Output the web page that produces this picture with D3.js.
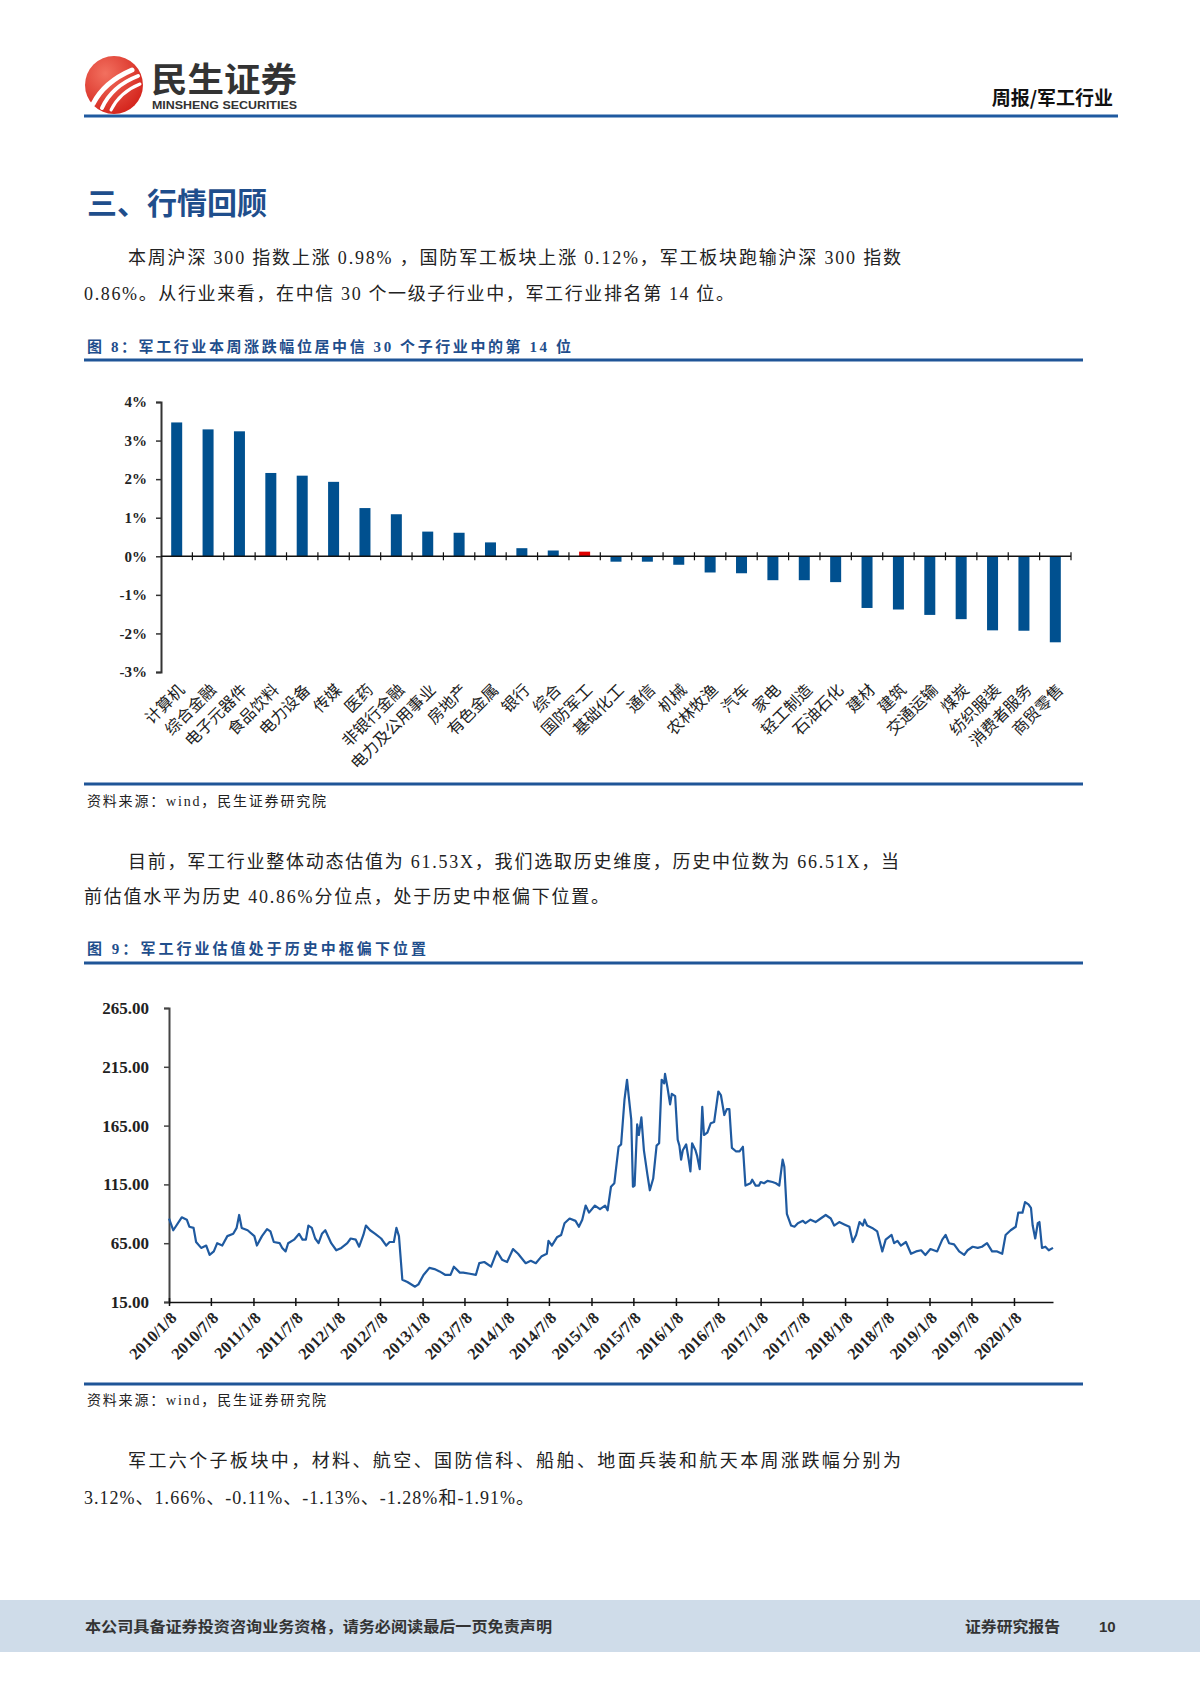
<!DOCTYPE html>
<html><head><meta charset="utf-8">
<script src="https://cdn.jsdelivr.net/npm/d3@7"></script>
<style>
body{margin:0;background:#fff}
svg text{font-family:"Liberation Serif","Noto Sans CJK SC",serif}
</style></head>
<body><svg id="page" width="1200" height="1698"></svg>
<script>
// ---------- Figure 8 data ----------
const industries = ["计算机","综合金融","电子元器件","食品饮料","电力设备","传媒","医药","非银行金融","电力及公用事业","房地产","有色金属","银行","综合","国防军工","基础化工","通信","机械","农林牧渔","汽车","家电","轻工制造","石油石化","建材","建筑","交通运输","煤炭","纺织服装","消费者服务","商贸零售"];
const changes = [3.47,3.29,3.24,2.16,2.09,1.93,1.25,1.09,0.64,0.61,0.36,0.21,0.15,0.12,-0.14,-0.14,-0.22,-0.42,-0.44,-0.62,-0.62,-0.67,-1.34,-1.38,-1.52,-1.63,-1.92,-1.93,-2.23];
const highlightIndustry = "国防军工";
const barTicks = [4,3,2,1,0,-1,-2,-3];

// ---------- Figure 9 data (decimal year, PE) ----------
const peYears = [2010.02,2010.07,2010.17,2010.23,2010.26,2010.31,2010.34,2010.40,2010.46,2010.50,2010.55,2010.59,2010.65,2010.71,2010.78,2010.82,2010.85,2010.88,2010.95,
2011.03,2011.06,2011.12,2011.18,2011.22,2011.26,2011.33,2011.36,2011.40,2011.43,2011.50,2011.56,2011.60,2011.64,2011.67,2011.71,2011.75,2011.79,2011.83,2011.87,2011.94,
2012.00,2012.06,2012.13,2012.17,2012.23,2012.27,2012.32,2012.35,2012.40,2012.46,2012.53,2012.59,2012.63,2012.68,2012.71,2012.74,2012.78,2012.84,2012.93,2012.97,
2013.03,2013.10,2013.16,2013.22,2013.29,2013.35,2013.39,2013.46,2013.50,2013.58,2013.65,2013.69,2013.75,2013.83,2013.90,2013.96,
2014.02,2014.09,2014.15,2014.24,2014.30,2014.36,2014.43,2014.49,2014.51,2014.55,2014.61,2014.66,2014.70,2014.76,2014.83,2014.87,2014.91,2014.95,2014.99,
2015.06,2015.12,2015.18,2015.21,2015.25,2015.29,2015.34,2015.37,2015.41,2015.44,2015.46,2015.49,2015.51,2015.53,2015.56,2015.58,2015.61,2015.64,2015.68,2015.71,2015.75,2015.79,2015.82,2015.85,2015.88,2015.89,2015.92,2015.95,2015.97,
2016.01,2016.04,2016.06,2016.08,2016.10,2016.14,2016.17,2016.19,2016.21,2016.25,2016.27,2016.30,2016.33,2016.35,2016.39,2016.43,2016.47,2016.52,2016.55,2016.59,2016.62,2016.65,2016.68,2016.73,2016.77,2016.81,2016.84,2016.90,2016.92,2016.96,
2017.00,2017.02,2017.06,2017.10,2017.16,2017.20,2017.24,2017.28,2017.30,2017.33,2017.38,2017.42,2017.46,2017.52,2017.55,2017.61,2017.67,2017.73,2017.79,2017.85,2017.89,2017.95,
2018.01,2018.07,2018.11,2018.15,2018.19,2018.23,2018.25,2018.28,2018.34,2018.40,2018.46,2018.50,2018.57,2018.60,2018.64,2018.68,2018.74,2018.80,2018.86,2018.92,2018.97,
2019.03,2019.11,2019.17,2019.21,2019.25,2019.31,2019.37,2019.43,2019.47,2019.53,2019.59,2019.64,2019.70,2019.76,2019.82,2019.88,2019.92,2019.98,
2020.04,2020.07,2020.12,2020.15,2020.19,2020.22,2020.24,2020.27,2020.30,2020.32,2020.35,2020.39,2020.43,2020.48];
const peValues = [86,76,87,85,79,78,66,61,63,55,58,65,63,71,73,78,89,78,76,
71,63,71,77,75,66,65,61,58,65,68,73,68,68,80,78,69,65,73,76,65,
59,61,65,69,68,62,72,80,76,73,69,63,66,66,78,71,34,32,28,30,
38,44,43,41,38,38,45,40,40,39,38,48,49,45,58,51,
49,60,56,48,50,48,54,56,67,63,70,72,82,86,84,79,85,97,91,
97,94,97,93,113,116,147,149,187,204,190,170,113,114,166,157,172,144,124,110,120,148,150,204,201,209,197,183,192,
190,153,148,136,144,149,136,126,150,144,139,128,181,157,159,167,168,194,191,174,179,179,146,143,143,147,114,116,119,114,
114,117,116,118,117,116,114,136,130,90,80,79,82,84,82,85,83,86,89,86,80,83,
81,79,66,72,83,80,85,80,78,75,58,68,72,65,67,63,66,56,58,59,55,
60,58,68,72,65,64,58,55,59,62,61,62,65,58,58,56,72,76,
79,91,91,100,98,95,80,69,82,83,61,62,59,61];
const dateTickLabels = ["2010/1/8","2010/7/8","2011/1/8","2011/7/8","2012/1/8","2012/7/8","2013/1/8","2013/7/8","2014/1/8","2014/7/8","2015/1/8","2015/7/8","2016/1/8","2016/7/8","2017/1/8","2017/7/8","2018/1/8","2018/7/8","2019/1/8","2019/7/8","2020/1/8"];
const peTicks = [15,65,115,165,215,265];

// ---------- page texts ----------
const blue = "#1f4e8c";
const svg = d3.select("#page");

// header logo
const logo = svg.append("g");
const grad = svg.append("defs").append("radialGradient").attr("id","lg").attr("cx","35%").attr("cy","30%").attr("r","75%");
grad.append("stop").attr("offset","0%").attr("stop-color","#f2705f");
grad.append("stop").attr("offset","100%").attr("stop-color","#d4241c");
logo.append("circle").attr("cx",114).attr("cy",85).attr("r",29).attr("fill","url(#lg)");
[["M93,104 Q104,82 132,70",5],["M102,108 Q112,86 138,76",4],["M111,110 Q120,92 140,84",3]].forEach(([d,w])=>{
  logo.append("path").attr("d",d).attr("fill","none").attr("stroke","#fff").attr("stroke-width",w).attr("stroke-linecap","round");
});
svg.append("text").attr("x",151).attr("y",92).attr("font-size",34).attr("font-weight",700).attr("fill","#333")
  .style("font-family","'Noto Sans CJK SC'").attr("textLength",146).attr("lengthAdjust","spacingAndGlyphs").text("民生证券");
svg.append("text").attr("x",152).attr("y",109).attr("font-size",11).attr("font-weight",700).attr("fill","#333")
  .style("font-family","'Liberation Sans'").attr("textLength",145).attr("lengthAdjust","spacingAndGlyphs").text("MINSHENG SECURITIES");
svg.append("text").attr("x",1113).attr("y",105).attr("text-anchor","end").attr("font-size",19).attr("font-weight",700).attr("fill","#111")
  .style("font-family","'Noto Sans CJK SC'").text("周报/军工行业");
svg.append("line").attr("x1",84).attr("x2",1118).attr("y1",116).attr("y2",116).attr("stroke","#1f5aa0").attr("stroke-width",3);

// section title
svg.append("text").attr("x",87).attr("y",214).attr("font-size",30).attr("font-weight",700).attr("fill",blue)
  .style("font-family","'Noto Sans CJK SC'").text("三、行情回顾");

function para(x,y,w,t,size){
  const el = svg.append("text").attr("x",x).attr("y",y).attr("font-size",size||18).attr("fill","#222").text(t);
  if(w) el.attr("textLength",w).attr("lengthAdjust","spacing");
  return el;
}
para(128,264,773,"本周沪深 300 指数上涨 0.98% ，国防军工板块上涨 0.12%，军工板块跑输沪深 300 指数");
para(84,300,650,"0.86%。从行业来看，在中信 30 个一级子行业中，军工行业排名第 14 位。");

function figTitle(y,w,t){
  svg.append("text").attr("x",87).attr("y",y).attr("font-size",15).attr("font-weight",700).attr("fill",blue)
    .attr("textLength",w).attr("lengthAdjust","spacing").text(t);
}
function rule(y){ svg.append("line").attr("x1",84).attr("x2",1083).attr("y1",y).attr("y2",y).attr("stroke","#1f5597").attr("stroke-width",3); }
function source(y){ para(87,y,239,"资料来源：wind，民生证券研究院",14); }

figTitle(352,484,"图 8：军工行业本周涨跌幅位居中信 30 个子行业中的第 14 位");
rule(360);

// ---------- Figure 8: bar chart ----------
const bx = d3.scaleBand().domain(industries).range([161,1071]).padding(0);
const by = d3.scaleLinear().domain([-3,4]).range([672,402]);
const barW = 11;
const g8 = svg.append("g");
g8.selectAll("rect.bar").data(industries).join("rect").attr("class","bar")
  .attr("x",d=>bx(d)+bx.bandwidth()/2-barW/2)
  .attr("width",barW)
  .attr("y",(d,i)=>by(Math.max(0,changes[i])))
  .attr("height",(d,i)=>Math.abs(by(changes[i])-by(0)))
  .attr("fill",d=>d===highlightIndustry?"#e00000":"#00508f");
// y axis
const yAx8 = g8.append("g").attr("transform","translate(161,0)")
  .call(d3.axisLeft(by).tickValues(barTicks).tickSize(5).tickFormat(d=>d+"%"));
yAx8.select(".domain").attr("stroke","#333").attr("stroke-width",2);
yAx8.selectAll(".tick line").attr("stroke","#333").attr("stroke-width",1.5);
yAx8.selectAll(".tick text").attr("x",-14).attr("font-size",15).attr("font-weight",700).attr("fill","#222")
  .style("font-family","'Liberation Serif'");
// zero axis
g8.append("line").attr("x1",161).attr("x2",1071).attr("y1",by(0)).attr("y2",by(0)).attr("stroke","#111").attr("stroke-width",1.5);
const bounds = industries.map(d=>bx(d)).concat([bx.range()[1]]);
g8.selectAll("line.xt").data(bounds.slice(1)).join("line").attr("class","xt")
  .attr("x1",d=>d).attr("x2",d=>d).attr("y1",by(0)-4).attr("y2",by(0)+4).attr("stroke","#111").attr("stroke-width",1.2);
// x labels
g8.selectAll("text.xl").data(industries).join("text").attr("class","xl")
  .attr("transform",d=>`translate(${bx(d)+bx.bandwidth()/2+9},691) rotate(-45)`)
  .attr("text-anchor","end").attr("font-size",16).attr("fill","#222")
  .style("font-family","'Noto Sans CJK SC'").text(d=>d);

rule(784);
source(806);

para(128,868,771,"目前，军工行业整体动态估值为 61.53X，我们选取历史维度，历史中位数为 66.51X，当");
para(84,903,525,"前估值水平为历史 40.86%分位点，处于历史中枢偏下位置。");

figTitle(954,339,"图 9：军工行业估值处于历史中枢偏下位置");
rule(963);

// ---------- Figure 9: line chart ----------
function ydate(y){ const yr=Math.floor(y); const s=new Date(yr,0,1), e=new Date(yr+1,0,1); return new Date(+s+(y-yr)*(e-s)); }
const tickDates = dateTickLabels.map(s=>{const [a,b,c]=s.split("/").map(Number); return new Date(a,b-1,c);});
const pts = peYears.map((y,i)=>({d:ydate(y),v:peValues[i]}));
const lx = d3.scaleTime().domain([new Date(2010,0,8), pts[pts.length-1].d]).range([169,1053]);
const ly = d3.scaleLinear().domain([15,265]).range([1302,1008]);
const g9 = svg.append("g");
const yAx9 = g9.append("g").attr("transform","translate(169,0)")
  .call(d3.axisLeft(ly).tickValues(peTicks).tickSize(5).tickFormat(d3.format(".2f")));
yAx9.select(".domain").attr("stroke","#444").attr("stroke-width",2);
yAx9.selectAll(".tick line").attr("stroke","#444").attr("stroke-width",1.5);
yAx9.selectAll(".tick text").attr("x",-20).attr("font-size",17).attr("font-weight",700).attr("fill","#222")
  .style("font-family","'Liberation Serif'");
const xAx9 = g9.append("g").attr("transform","translate(0,1302)")
  .call(d3.axisBottom(lx).tickValues(tickDates).tickSizeInner(4).tickSizeOuter(0).tickFormat((d,i)=>dateTickLabels[i]));
xAx9.select(".domain").attr("stroke","#111").attr("stroke-width",1.5);
xAx9.selectAll(".tick line").attr("y1",-4).attr("y2",4).attr("stroke","#111").attr("stroke-width",1.5);
xAx9.selectAll(".tick text").attr("y",0).attr("dy",0)
  .attr("transform","translate(8,17) rotate(-45)").attr("text-anchor","end")
  .attr("font-size",16.5).attr("font-weight",700).attr("fill","#222").style("font-family","'Liberation Serif'");
g9.append("path").datum(pts).attr("fill","none").attr("stroke","#1f5aa0").attr("stroke-width",2.2).attr("stroke-linejoin","round")
  .attr("d",d3.line().x(p=>lx(p.d)).y(p=>ly(p.v)));

rule(1384);
source(1405);

para(128,1467,773,"军工六个子板块中，材料、航空、国防信科、船舶、地面兵装和航天本周涨跌幅分别为");
para(84,1504,450,"3.12%、1.66%、-0.11%、-1.13%、-1.28%和-1.91%。");

// footer
svg.append("rect").attr("x",0).attr("y",1600).attr("width",1200).attr("height",52).attr("fill","#cfdce9");
svg.append("text").attr("x",85).attr("y",1632).attr("font-size",15).attr("font-weight",700).attr("fill","#333")
  .style("font-family","'Noto Sans CJK SC'").attr("textLength",467).attr("lengthAdjust","spacingAndGlyphs")
  .text("本公司具备证券投资咨询业务资格，请务必阅读最后一页免责声明");
svg.append("text").attr("x",965).attr("y",1632).attr("font-size",15).attr("font-weight",700).attr("fill","#333")
  .style("font-family","'Noto Sans CJK SC'").attr("textLength",95).attr("lengthAdjust","spacingAndGlyphs").text("证券研究报告");
svg.append("text").attr("x",1099).attr("y",1632).attr("font-size",15).attr("font-weight",700).attr("fill","#333")
  .style("font-family","'Liberation Sans'").text("10");
</script>
</body></html>
